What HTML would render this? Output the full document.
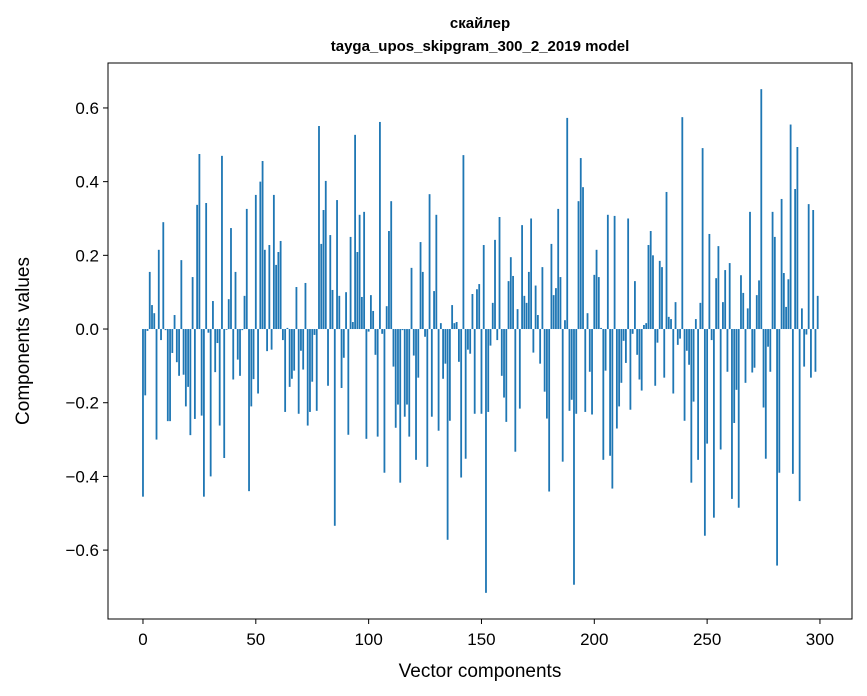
<!DOCTYPE html>
<html><head><meta charset="utf-8"><style>
html,body{margin:0;padding:0;background:#fff;}
svg{display:block;font-family:"Liberation Sans","DejaVu Sans",sans-serif;}
</style></head><body>
<svg id="chart" width="867" height="696" viewBox="0 0 867 696" xmlns="http://www.w3.org/2000/svg">
<rect width="867" height="696" fill="#fff"/>
<text x="480" y="28" text-anchor="middle" font-size="15" font-weight="bold">скайлер</text>
<text x="480" y="51" text-anchor="middle" font-size="15" font-weight="bold">tayga_upos_skipgram_300_2_2019 model</text>
<g id="bars"></g>
<g id="xticks"></g>
<g id="yticks"></g>
<rect x="108" y="63" width="744" height="556" fill="none" stroke="#000" stroke-width="1"/>
<text x="480" y="677" text-anchor="middle" font-size="19">Vector components</text>
<text x="29" y="341" text-anchor="middle" font-size="19" transform="rotate(-90 29 341)">Components values</text>
</svg>
<script>
const values = [
-0.455,-0.18,-0.005,0.155,0.065,0.043,-0.30,0.215,-0.03,0.29,
-0.003,-0.25,-0.25,-0.065,0.038,-0.09,-0.127,0.187,-0.124,-0.21,
-0.157,-0.288,0.141,-0.244,0.337,0.475,-0.235,-0.455,0.342,-0.01,
-0.40,0.076,-0.117,-0.038,-0.262,0.47,-0.35,-0.002,0.081,0.274,
-0.137,0.155,-0.083,-0.127,-0.003,0.09,0.326,-0.44,-0.21,-0.136,
0.364,-0.175,0.40,0.456,0.215,-0.06,0.228,-0.056,0.364,0.174,
0.209,0.239,-0.03,-0.225,0.003,-0.157,-0.135,-0.113,0.114,-0.23,
-0.059,-0.11,0.125,-0.262,-0.225,-0.143,-0.016,-0.222,0.551,0.231,
0.323,0.402,-0.154,0.255,0.106,-0.534,0.35,0.09,-0.16,-0.078,
0.10,-0.287,0.25,0.019,0.527,0.209,0.31,0.087,0.318,-0.298,
-0.007,0.092,0.049,-0.07,-0.292,0.562,-0.013,-0.39,0.062,0.266,
0.347,-0.102,-0.268,-0.205,-0.417,-0.003,-0.238,-0.205,-0.292,0.166,
-0.072,-0.355,-0.132,0.236,0.155,-0.021,-0.374,0.366,-0.238,0.103,
0.31,-0.276,0.016,-0.135,-0.094,-0.572,-0.249,0.065,0.016,0.019,
-0.089,-0.403,0.472,-0.352,-0.056,-0.067,0.095,-0.23,0.108,0.122,
-0.23,0.228,-0.716,-0.225,-0.045,0.071,0.242,-0.03,0.304,-0.127,
-0.186,-0.252,0.13,0.195,0.144,-0.333,0.054,-0.216,0.282,0.09,
0.071,0.155,0.30,-0.064,0.118,0.038,-0.094,0.168,-0.17,-0.243,
-0.441,0.231,0.092,0.111,0.326,0.141,-0.36,0.024,0.573,-0.222,
-0.192,-0.694,-0.23,0.347,0.464,0.385,-0.225,0.043,-0.116,-0.232,
0.147,0.215,0.141,0.003,-0.355,-0.113,0.31,-0.344,-0.433,0.307,
-0.27,-0.21,-0.146,-0.032,-0.092,0.30,-0.219,-0.013,0.13,-0.07,
-0.137,-0.167,0.011,0.016,0.228,0.266,0.20,-0.154,-0.037,0.185,
0.168,-0.132,0.372,0.033,0.027,-0.175,0.073,-0.043,-0.026,0.575,
-0.249,-0.059,-0.097,-0.417,-0.197,0.027,-0.355,0.071,0.491,-0.561,
-0.311,0.258,-0.03,-0.512,0.138,0.225,-0.327,0.073,0.16,-0.116,
0.179,-0.461,-0.255,-0.165,-0.485,0.146,0.098,-0.146,0.056,0.318,
-0.118,-0.105,0.092,0.132,0.651,-0.213,-0.352,-0.048,-0.116,0.318,
0.25,-0.642,-0.39,0.353,0.152,0.06,0.135,0.555,-0.393,0.38,
0.494,-0.467,0.056,-0.102,-0.015,0.339,-0.132,0.323,-0.116,0.09
];
const xTickValues = [0,50,100,150,200,250,300];
const yTickValues = [-0.6,-0.4,-0.2,0.0,0.2,0.4,0.6];
const yTickLabels = ["\u22120.6","\u22120.4","\u22120.2","0.0","0.2","0.4","0.6"];

const NS = "http://www.w3.org/2000/svg";
const PX0 = 108, PX1 = 852, PY0 = 63, PY1 = 619;
const xMin = -15.5, xMax = 314.2, yMin = -0.787, yMax = 0.722;
function xs(v){ return PX0 + (v - xMin) / (xMax - xMin) * (PX1 - PX0); }
function ys(v){ return PY1 - (v - yMin) / (yMax - yMin) * (PY1 - PY0); }

const barsG = document.getElementById('bars');
const bw = xs(0.8) - xs(0);
values.forEach((v, i) => {
  const r = document.createElementNS(NS, 'rect');
  const y0 = ys(0), y1 = ys(v);
  r.setAttribute('x', xs(i) - bw / 2);
  r.setAttribute('y', Math.min(y0, y1));
  r.setAttribute('width', bw);
  r.setAttribute('height', Math.max(Math.abs(y1 - y0), 0.3));
  r.setAttribute('fill', '#1f77b4');
  
  
  barsG.appendChild(r);
});

const xg = document.getElementById('xticks');
xTickValues.forEach(t => {
  const x = xs(t);
  const l = document.createElementNS(NS, 'line');
  l.setAttribute('x1', x); l.setAttribute('x2', x);
  l.setAttribute('y1', PY1); l.setAttribute('y2', PY1 + 5);
  l.setAttribute('stroke', '#000');
  
  
  xg.appendChild(l);
  const tx = document.createElementNS(NS, 'text');
  tx.setAttribute('x', x); tx.setAttribute('y', PY1 + 26);
  tx.setAttribute('text-anchor', 'middle'); tx.setAttribute('font-size', '17');
  tx.textContent = String(t);
  
  
  xg.appendChild(tx);
});

const yg = document.getElementById('yticks');
yTickValues.forEach((t, i) => {
  const y = ys(t);
  const l = document.createElementNS(NS, 'line');
  l.setAttribute('x1', PX0 - 5); l.setAttribute('x2', PX0);
  l.setAttribute('y1', y); l.setAttribute('y2', y);
  l.setAttribute('stroke', '#000');
  
  
  yg.appendChild(l);
  const tx = document.createElementNS(NS, 'text');
  tx.setAttribute('x', PX0 - 9); tx.setAttribute('y', y + 6);
  tx.setAttribute('text-anchor', 'end'); tx.setAttribute('font-size', '17');
  tx.textContent = yTickLabels[i];
  
  
  yg.appendChild(tx);
});
</script>
</body></html>
